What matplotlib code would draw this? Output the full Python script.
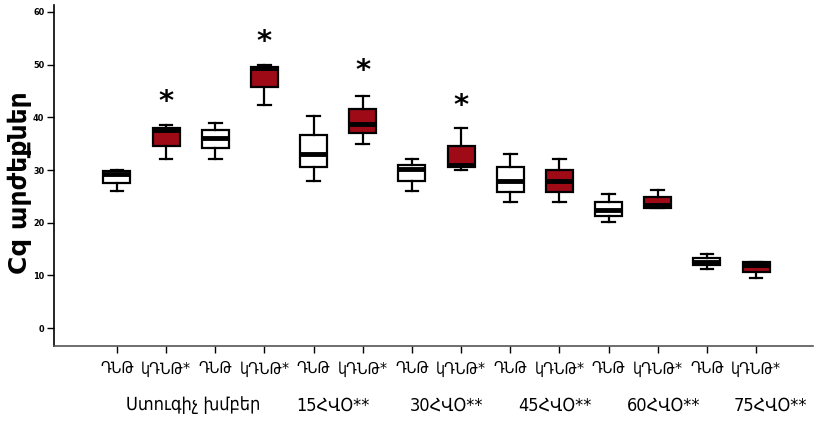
import matplotlib
matplotlib.use("Agg")
import matplotlib.pyplot as plt

# Data
whislo = [26.0, 32.0, 32.0, 42.3, 28.0, 34.9, 26.0, 30.0, 24.0, 24.0, 20.1, 22.8, 11.3, 9.5]
q1     = [27.6, 34.6, 34.1, 45.7, 30.5, 37.0, 28.0, 30.5, 25.9, 25.9, 21.3, 22.8, 12.0, 10.7]
med    = [29.2, 37.5, 36.0, 49.3, 33.0, 38.7, 30.1, 31.0, 28.0, 28.0, 22.5, 23.3, 12.6, 12.0]
q3     = [29.8, 38.0, 37.6, 49.6, 36.7, 41.5, 30.9, 34.5, 30.6, 30.0, 24.0, 24.8, 13.4, 12.5]
whishi = [30.0, 38.5, 39.0, 50.0, 40.3, 44.0, 32.0, 38.0, 33.0, 32.0, 25.4, 26.2, 14.0, 12.5]
treated = [False, True] * 7
tick_labels = ["ԴՆԹ", "կԴՆԹ*"] * 7
group_labels = ["Ստուգիչ խմբեր", "15ՀՎՕ**", "30ՀՎՕ**", "45ՀՎՕ**", "60ՀՎՕ**", "75ՀՎՕ**"]
group_x = [2.55, 5.4, 7.7, 9.9, 12.12, 14.3]
star_boxes = [2, 4, 6, 8]
star_values = [42.9, 54.2, 48.7, 42.2]
yticks = [0, 10, 20, 30, 40, 50, 60]

RED = "#9E0B16"

fig = plt.figure(figsize=(8.18, 4.21), dpi=100)
ax = fig.add_axes([0.066, 0.178, 0.928, 0.81])

stats = []
for i in range(len(med)):
    stats.append(dict(whislo=whislo[i], q1=q1[i], med=med[i], q3=q3[i], whishi=whishi[i]))
positions = list(range(1, len(med) + 1))
bp = ax.bxp(stats, positions=positions, widths=0.55, showfliers=False, patch_artist=True,
            boxprops=dict(linewidth=1.6, edgecolor="black"),
            medianprops=dict(color="black", linewidth=3.5),
            whiskerprops=dict(linewidth=1.6, color="black"),
            capprops=dict(linewidth=1.6, color="black"),
            capwidths=0.26)
for patch, t in zip(bp["boxes"], treated):
    patch.set_facecolor(RED if t else "white")

for b, v in zip(star_boxes, star_values):
    ax.text(b, v, "*", ha="center", va="center", fontsize=21, fontweight="bold")

ax.set_xlim(-0.28, 15.16)
ax.set_ylim(-3.4, 61.3)
ax.set_yticks(yticks)
ax.set_yticklabels([str(v) for v in yticks], fontsize=6.5, fontweight="bold",
                   fontstretch="condensed")
ax.set_xticks(positions)
ax.set_xticklabels(tick_labels, fontsize=11.5, fontstretch="condensed")
ax.tick_params(axis="x", length=5, width=1, pad=6)
ax.tick_params(axis="y", length=5, width=1, pad=2)
for s in ["top", "right"]:
    ax.spines[s].set_visible(False)
ax.spines["left"].set_linewidth(1.2)
ax.spines["bottom"].set_linewidth(1.2)
ax.spines["bottom"].set_color("#555555")

# group labels row
for lab, xc in zip(group_labels, group_x):
    ax.text(xc, -0.173, lab, transform=ax.get_xaxis_transform(), ha="center", va="center",
            fontsize=13, fontstretch="condensed")

fig.text(20 / 818, 0.567, "Cq արժեքներ", rotation=90, ha="center", va="center",
         fontsize=18, fontweight="bold")

fig.savefig("out.png", dpi=100)
